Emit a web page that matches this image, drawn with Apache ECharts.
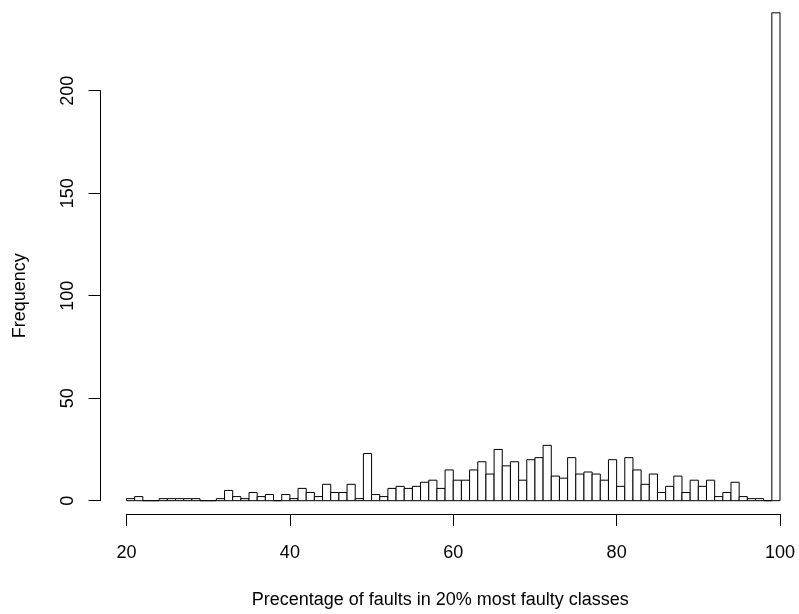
<!DOCTYPE html>
<html>
<head>
<meta charset="utf-8">
<script src="https://cdn.jsdelivr.net/npm/echarts@6/dist/echarts.min.js"></script>
<style>
  html, body { margin: 0; padding: 0; background: #fff; }
  #chart { width: 799px; height: 614px; }
</style>
</head>
<body>
<div id="chart"></div>
<script>
// histogram bins: left edge of each 1-wide bin and its count
const binStarts = [
  20, 21, 22, 23, 24, 25, 26, 27, 28, 29,
  30, 31, 32, 33, 34, 35, 36, 37, 38, 39,
  40, 41, 42, 43, 44, 45, 46, 47, 48, 49,
  50, 51, 52, 53, 54, 55, 56, 57, 58, 59,
  60, 61, 62, 63, 64, 65, 66, 67, 68, 69,
  70, 71, 72, 73, 74, 75, 76, 77, 78, 79,
  80, 81, 82, 83, 84, 85, 86, 87, 88, 89,
  90, 91, 92, 93, 94, 95, 96, 97, 98, 99
]
const counts = [
  1, 2, 0, 0, 1, 1, 1, 1, 1, 0,
  0, 1, 5, 2, 1, 4, 2, 3, 0, 3,
  1, 6, 4, 2, 8, 4, 4, 8, 1, 23,
  3, 2, 6, 7, 6, 7, 9, 10, 6, 15,
  10, 10, 15, 19, 13, 25, 17, 19, 10, 20,
  21, 27, 12, 11, 21, 13, 14, 13, 10, 20,
  7, 21, 15, 8, 13, 4, 7, 12, 4, 10,
  7, 10, 2, 4, 9, 2, 1, 1, 0, 238
]
const binWidth = 1
const xTicks = [20, 100]   // axis span shown
const yTicks = [0, 200]

const font = 'Liberation Sans, Arial, Helvetica, sans-serif'
const chart = echarts.init(document.getElementById('chart'))

const option = {
  animation: false,
  backgroundColor: '#fff',
  textStyle: { fontFamily: font, color: '#000' },
  grid: [
    // data area
    { left: 126.5, right: 19, top: 8.7, bottom: 113.3 },
    // y axis frame (0..200 only)
    { left: 100.5, width: 10, top: 90.7, bottom: 113.3 },
    // x axis frame
    { left: 126.5, right: 19, top: 100, bottom: 94 }
  ],
  xAxis: [
    { gridIndex: 0, type: 'value', min: xTicks[0], max: xTicks[1], show: false },
    { gridIndex: 1, type: 'value', show: false },
    {
      gridIndex: 2, type: 'value', min: xTicks[0], max: xTicks[1], interval: 20,
      name: 'Precentage of faults in 20% most faulty classes',
      nameLocation: 'middle', nameGap: 77,
      nameTextStyle: { fontSize: 18, color: '#000', fontFamily: font, padding: [0, 26, 0, 0] },
      axisLine: { show: true, lineStyle: { color: '#000', width: 1 } },
      axisTick: { show: true, length: 12, lineStyle: { color: '#000', width: 1 } },
      axisLabel: { fontSize: 18, color: '#000', margin: 30, fontFamily: font, showMinLabel: true, showMaxLabel: true },
      splitLine: { show: false }
    }
  ],
  yAxis: [
    { gridIndex: 0, type: 'value', min: 0, max: 240, show: false },
    {
      gridIndex: 1, type: 'value', min: yTicks[0], max: yTicks[1], interval: 50,
      position: 'left',
      name: 'Frequency',
      nameLocation: 'middle', nameGap: 71, nameRotate: 90,
      nameTextStyle: { fontSize: 18, color: '#000', fontFamily: font },
      axisLine: { show: true, lineStyle: { color: '#000', width: 1 } },
      axisTick: { show: true, length: 12, lineStyle: { color: '#000', width: 1 } },
      axisLabel: { fontSize: 18, color: '#000', margin: 23, rotate: 90, fontFamily: font },
      splitLine: { show: false }
    },
    { gridIndex: 2, type: 'value', show: false }
  ],
  series: [{
    type: 'custom',
    xAxisIndex: 0,
    yAxisIndex: 0,
    data: binStarts.map((x, i) => [x, counts[i]]),
    renderItem: function (params, api) {
      const x0 = api.value(0)
      const c = api.value(1)
      const topLeft = api.coord([x0, c])
      const bottomRight = api.coord([x0 + binWidth, 0])
      return {
        type: 'rect',
        shape: {
          x: topLeft[0],
          y: topLeft[1],
          width: bottomRight[0] - topLeft[0],
          height: bottomRight[1] - topLeft[1]
        },
        style: { fill: '#fff', stroke: '#000', lineWidth: 1 }
      }
    }
  }]
}

chart.setOption(option)
</script>
</body>
</html>
